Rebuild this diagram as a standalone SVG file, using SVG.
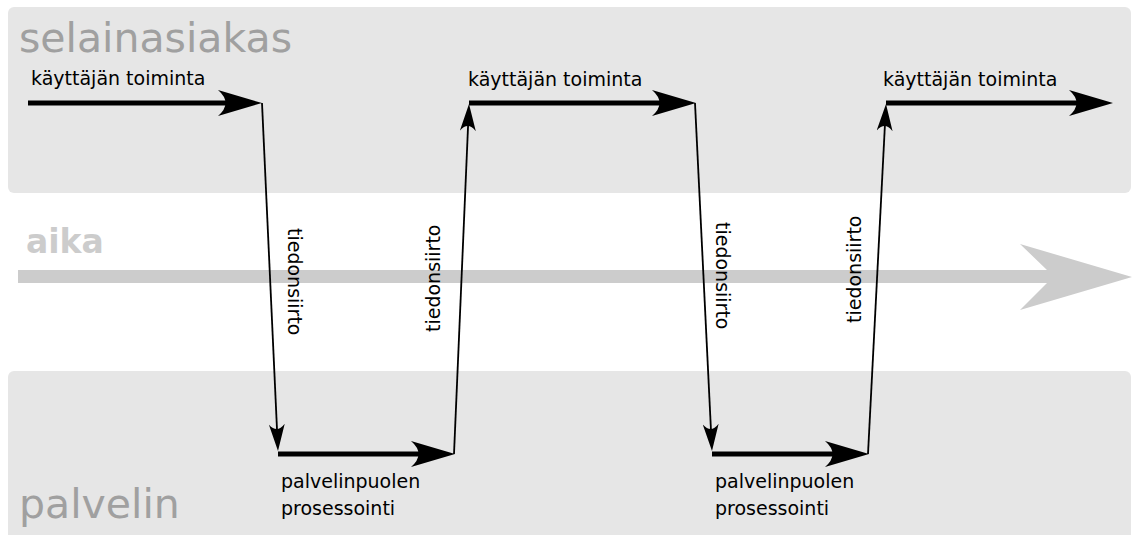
<svg xmlns="http://www.w3.org/2000/svg" width="1132" height="535" viewBox="0 0 1132 535">
<style>
.panel{fill:#e6e6e6}
.title{font-family:"DejaVu Sans",Verdana,sans-serif;font-size:41px;fill:#a0a0a0}
.lbl{font-family:"DejaVu Sans",Verdana,sans-serif;font-size:19px;fill:#000}
.aika{font-family:"DejaVu Sans",Verdana,sans-serif;font-size:33px;font-weight:bold;fill:#cccccc}
.thick{stroke:#000;stroke-width:5;fill:none;marker-end:url(#big)}
.thin{stroke:#000;stroke-width:1.8;fill:none;marker-end:url(#small)}
</style>
<defs>
<marker id="big" markerUnits="userSpaceOnUse" viewBox="0 -13 44 26" refX="14" refY="0" markerWidth="44" markerHeight="26" orient="auto">
<path d="M44,0 L0,-13 Q15,0 0,13 Z" fill="#000"/>
</marker>
<marker id="small" markerUnits="userSpaceOnUse" viewBox="0 -8 27 16" refX="9" refY="0" markerWidth="27" markerHeight="16" orient="auto">
<path d="M27,0 L0,-8 Q10,0 0,8 Z" fill="#000"/>
</marker>
</defs>
<rect width="1132" height="535" fill="#fff"/>
<g id="selainasiakas">
<rect class="panel" x="8" y="7" width="1123" height="186" rx="6"/>
<text class="title" x="19" y="52">selainasiakas</text>
</g>
<g id="palvelin">
<rect class="panel" x="8" y="371" width="1123" height="175" rx="6"/>
<text class="title" x="19" y="518">palvelin</text>
</g>
<g id="aika">
<text class="aika" x="26" y="253">aika</text>
<polygon points="18,270 1047,270 1020,244 1132,277 1020,310 1047,283 18,283" fill="#cccccc"/>
</g>
<g id="connectors">
<line class="thick" x1="28" y1="103" x2="232" y2="103"/>
<line class="thin" x1="262" y1="103" x2="277.17" y2="433.02"/>
<line class="thick" x1="278" y1="454" x2="425" y2="454"/>
<line class="thin" x1="454" y1="454" x2="468.23" y2="121.98"/>
<line class="thick" x1="469" y1="103" x2="666" y2="103"/>
<line class="thin" x1="695" y1="103" x2="711.12" y2="433.02"/>
<line class="thick" x1="712" y1="454" x2="839" y2="454"/>
<line class="thin" x1="868" y1="454" x2="885.08" y2="121.98"/>
<line class="thick" x1="886" y1="103" x2="1083" y2="103"/>
</g>
<g id="labels">
<text class="lbl" x="31" y="85">käyttäjän toiminta</text>
<text class="lbl" x="468" y="86">käyttäjän toiminta</text>
<text class="lbl" x="883" y="86">käyttäjän toiminta</text>
<text class="lbl" x="281" y="488">palvelinpuolen</text>
<text class="lbl" x="281" y="515">prosessointi</text>
<text class="lbl" x="715" y="488">palvelinpuolen</text>
<text class="lbl" x="715" y="515">prosessointi</text>
<text class="lbl" transform="translate(288,228) rotate(90)">tiedonsiirto</text>
<text class="lbl" transform="translate(440,332) rotate(-90)">tiedonsiirto</text>
<text class="lbl" transform="translate(716,222) rotate(90)">tiedonsiirto</text>
<text class="lbl" transform="translate(861,323) rotate(-90)">tiedonsiirto</text>
</g>
</svg>
